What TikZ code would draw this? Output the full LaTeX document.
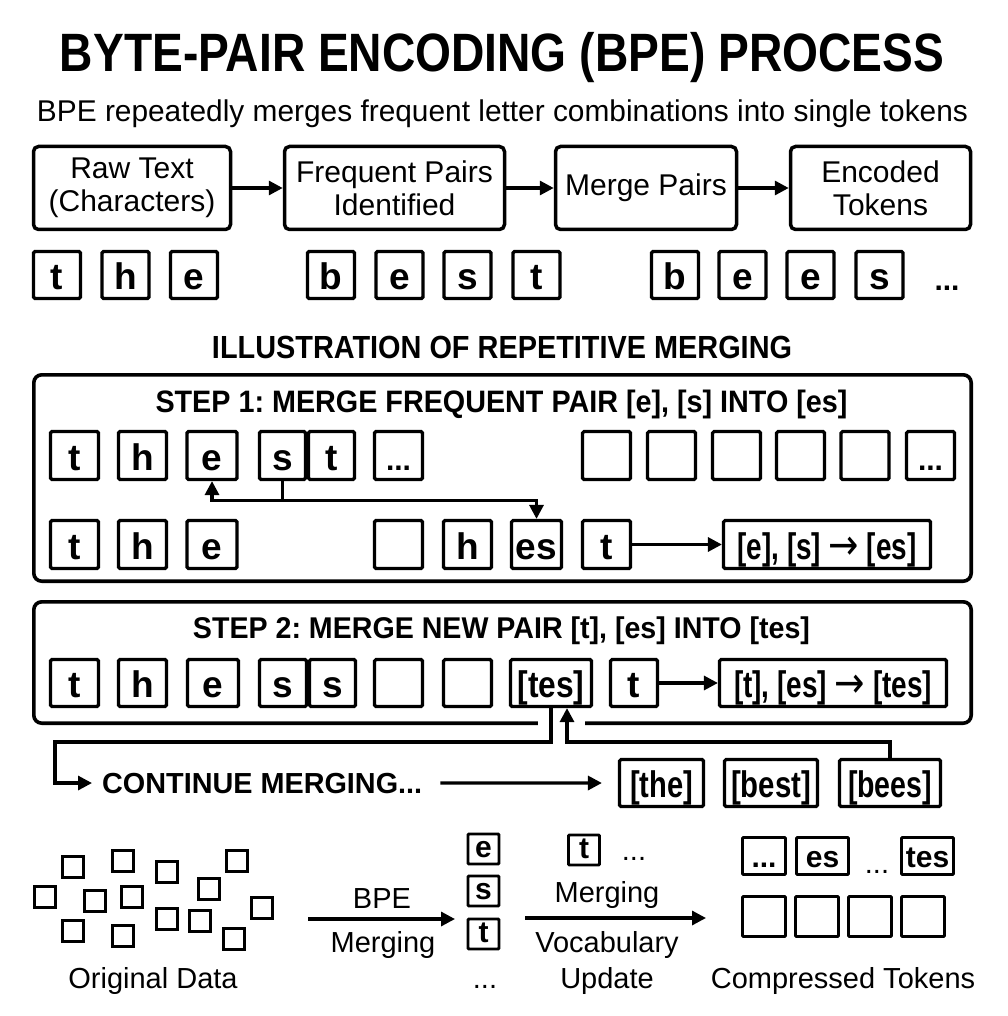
\documentclass[tikz,border=0pt]{standalone}
\usepackage{fontspec}
\setmainfont{Liberation Sans}
\newfontfamily\arrowfont{DejaVu Sans}
\usetikzlibrary{arrows.meta,positioning,calc}

% squeeze a text to a given width, keeping its height
\newcommand{\fitw}[2]{\resizebox{#1}{\height}{#2}}
\newcommand{\toarrow}{\scalebox{1.3}[1.15]{\arrowfont\mdseries →}}

\tikzset{
  tok/.style={draw, line width=3.2pt, rounded corners=1.5pt, inner sep=0pt,
    minimum width=48pt, minimum height=48pt, text height=29pt, text depth=0pt,
    font=\bfseries\fontsize{37}{37}\selectfont},
  dots/.style={font=\bfseries\fontsize{30}{30}\selectfont},
  small tok/.style={draw, line width=2.9pt, rounded corners=1pt, inner sep=0pt,
    minimum width=31pt, minimum height=30pt, text height=17pt, text depth=0pt,
    font=\bfseries\fontsize{30}{30}\selectfont},
  flowbox/.style={draw, line width=3.5pt, rounded corners=5pt, align=center,
    inner sep=0pt, minimum height=83pt, font=\fontsize{30}{33}\selectfont},
  stepframe/.style={draw, line width=3.6pt, rounded corners=8pt},
  link/.style={line width=3.2pt},
  arr/.style={line width=3.2pt, -{Triangle[length=14pt,width=14pt]}},
  lbl/.style={anchor=base, inner sep=0pt, font=\fontsize{29}{29}\selectfont},
  head/.style={anchor=base, inner sep=0pt},
}

\begin{document}
\frenchspacing
\begin{tikzpicture}[x=1pt,y=-1pt]
    \fill[white] (0,0) rectangle (1007,1016);
    \useasboundingbox (0,0) rectangle (1007,1016);

    % Titles
    \node[head, font=\bfseries\fontsize{54}{54}\selectfont] (title) at (502,72)
        {\fitw{884pt}{BYTE-PAIR ENCODING (BPE) PROCESS}};
    \node[head, font=\fontsize{30}{30}\selectfont] (subtitle) at (502.5,122)
        {\fitw{931pt}{BPE repeatedly merges frequent letter combinations into single tokens}};

    % Process flow
    \node[flowbox, minimum width=197pt] (raw) at (132,188) {Raw Text\\(Characters)};
    \node[flowbox, minimum width=220pt] (freq) at (394.5,188) {Frequent Pairs\\Identified};
    \node[flowbox, minimum width=181pt] (merge) at (646,188) {Merge Pairs};
    \node[flowbox, minimum width=180pt] (enc) at (880.5,188) {Encoded\\Tokens};
    \foreach \a/\b in {raw/freq, freq/merge, merge/enc}
        \draw[arr] (\a) -- (\b);

    % Letters of the words
    \foreach \n/\x/\c in {1/57/t, 2/125.5/h, 3/194/e, 4/331/b, 5/399.5/e, 6/467.5/s,
                          7/536.5/t, 8/675/b, 9/742.5/e, 10/810.5/e, 11/879.5/s}
        \node[tok, minimum width=47pt, minimum height=47pt] (w\n) at (\x,275) {\c};
    \node[head, dots] (wdots) at (947,290) {...};

    \node[head, font=\bfseries\fontsize{32}{32}\selectfont] (illus) at (502,358)
        {\fitw{580pt}{ILLUSTRATION OF REPETITIVE MERGING}};

    % Step 1
    \draw[stepframe] (33.8,374.8) rectangle (971.2,581.2);
    \node[head, font=\bfseries\fontsize{31}{31}\selectfont] (step1) at (501.5,412)
        {\fitw{692pt}{STEP 1: MERGE FREQUENT PAIR [e], [s] INTO [es]}};

    \node[tok] (a1) at (74.5,455.5) {t};
    \node[tok] (a2) at (142.5,455.5) {h};
    \node[tok, minimum width=50pt] (a3) at (212,455.5) {e};
    \node[tok, minimum width=46pt] (a4) at (282.5,455.5) {s};
    \node[tok, minimum width=46pt] (a5) at (331.5,455.5) {t};
    \node[tok, dots] (a6) at (398.5,455.5) {...};
    \foreach \x [count=\i] in {606.5,671.5,736.5,800.5,865}
        \node[tok] (ae\i) at (\x,455.5) {};
    \node[tok, dots] (a7) at (930.5,455.5) {...};

    \node[tok] (b1) at (74.5,544.5) {t};
    \node[tok] (b2) at (142.5,544.5) {h};
    \node[tok, minimum width=50pt] (b3) at (212,544.5) {e};
    \node[tok] (b4) at (398.5,544.5) {};
    \node[tok] (b5) at (467.5,544.5) {h};
    \node[tok, minimum width=50pt] (b6) at (536.5,544.5) {es};
    \node[tok] (b7) at (606.5,544.5) {t};
    \node[tok, minimum width=207pt] (rule1) at (827,544.5)
        {\fitw{179pt}{[e], [s] \toarrow{} [es]}};

    \draw[link] (a4.south) -- ++(0,19) coordinate (fork);
    \draw[arr] (fork) -| (a3.south);
    \draw[arr] (fork) -| (b6.north);
    \draw[arr] (b7) -- (rule1);

    % Step 2
    \draw[stepframe] (33.8,601.8) rectangle (971.2,723.2);
    \node[head, font=\bfseries\fontsize{30}{30}\selectfont] (step2) at (501.5,638)
        {\fitw{617pt}{STEP 2: MERGE NEW PAIR [t], [es] INTO [tes]}};

    \node[tok, minimum height=47pt] (c1) at (74.5,683) {t};
    \node[tok, minimum height=47pt] (c2) at (142.5,683) {h};
    \node[tok, minimum height=47pt, minimum width=51pt] (c3) at (213,683) {e};
    \node[tok, minimum height=47pt, minimum width=47pt] (c4) at (283,683) {s};
    \node[tok, minimum height=47pt, minimum width=46pt] (c5) at (332.5,683) {s};
    \node[tok, minimum height=47pt] (c6) at (398.5,683) {};
    \node[tok, minimum height=47pt] (c7) at (467.5,683) {};
    \node[tok, minimum height=47pt, minimum width=81pt] (c8) at (551,683) {\fitw{67pt}{[tes]}};
    \node[tok, minimum height=47pt, minimum width=47pt] (c9) at (634,683) {t};
    \node[tok, minimum height=47pt, minimum width=227pt] (rule2) at (833,683)
        {\fitw{198pt}{[t], [es] \toarrow{} [tes]}};
    \draw[arr] (c9) -- (rule2);

    % Continue merging
    \node[head, anchor=base west, font=\bfseries\fontsize{29}{29}\selectfont] (cont) at (102,793)
        {\fitw{320pt}{CONTINUE MERGING...}};
    \node[tok, minimum height=47pt, minimum width=84pt] (the) at (661.5,783) {\fitw{63pt}{[the]}};
    \node[tok, minimum height=47pt, minimum width=93pt] (best) at (771,783) {\fitw{80pt}{[best]}};
    \node[tok, minimum height=47pt, minimum width=101pt] (bees) at (890,783) {\fitw{84pt}{[bees]}};

    \fill[white] (538,717) rectangle (585,731);
    \coordinate (loop) at (55,742);
    \coordinate (tesR) at ([xshift=16pt]c8.south);
    \draw[arr] (c8.south) |- (loop) |- ([xshift=-10pt]cont.west);
    \draw[arr] (bees.north) |- (tesR |- loop) -- (tesR);
    \draw[arr, shorten <=18pt, shorten >=16pt] (cont.east) -- (the.west);

    % Original data
    \foreach \x/\y in {61/855, 111/849, 155/860, 225/849, 33/885, 83/889, 120/885,
                       197/877, 250/896, 61/919, 111/924, 155/907, 188/909, 222/927}
        \draw[line width=3.2pt] (\x+1.6,\y+1.6) rectangle ++(20.8,20.8);
    \node[lbl] (orig) at (153,988) {Original Data};

    \coordinate (bpeL) at (308,919);
    \coordinate (bpeR) at (455,919);
    \draw[arr] (bpeL) -- (bpeR);
    \node[lbl] (bpe) at (382,908) {BPE};
    \node[lbl] (bpem) at (383,952) {Merging};

    % Stacked pieces
    \node[small tok] (v1) at (483.5,849) {e};
    \node[small tok] (v2) at (483.5,891) {s};
    \node[small tok] (v3) at (483.5,934) {t};
    \node[lbl] (vdots) at (485,988) {...};

    \node[small tok] (m1) at (584,850) {t};
    \node[lbl] (mdots) at (634,860) {...};
    \coordinate (vocL) at (525,918);
    \coordinate (vocR) at (706,918);
    \draw[arr] (vocL) -- (vocR);
    \node[lbl] (mrg) at (607,902) {Merging};
    \node[lbl] (voc) at (607,952) {Vocabulary};
    \node[lbl] (upd) at (607,988) {Update};

    % Compressed tokens
    \node[small tok, minimum width=43pt, minimum height=37pt, text height=22pt, dots] (k1) at (764,856) {...};
    \node[small tok, minimum width=52pt, minimum height=37pt, text height=22pt] (k2) at (822.5,856) {es};
    \node[lbl] (kdots) at (877,873) {...};
    \node[small tok, minimum width=52pt, minimum height=37pt, text height=22pt] (k3) at (927.5,856) {tes};
    \foreach \x [count=\i] in {764,817,870,923}
        \node[small tok, minimum width=43pt, minimum height=40pt] (q\i) at (\x,916.5) {};
    \node[lbl] (comp) at (843,988) {Compressed Tokens};
\end{tikzpicture}
\end{document}
